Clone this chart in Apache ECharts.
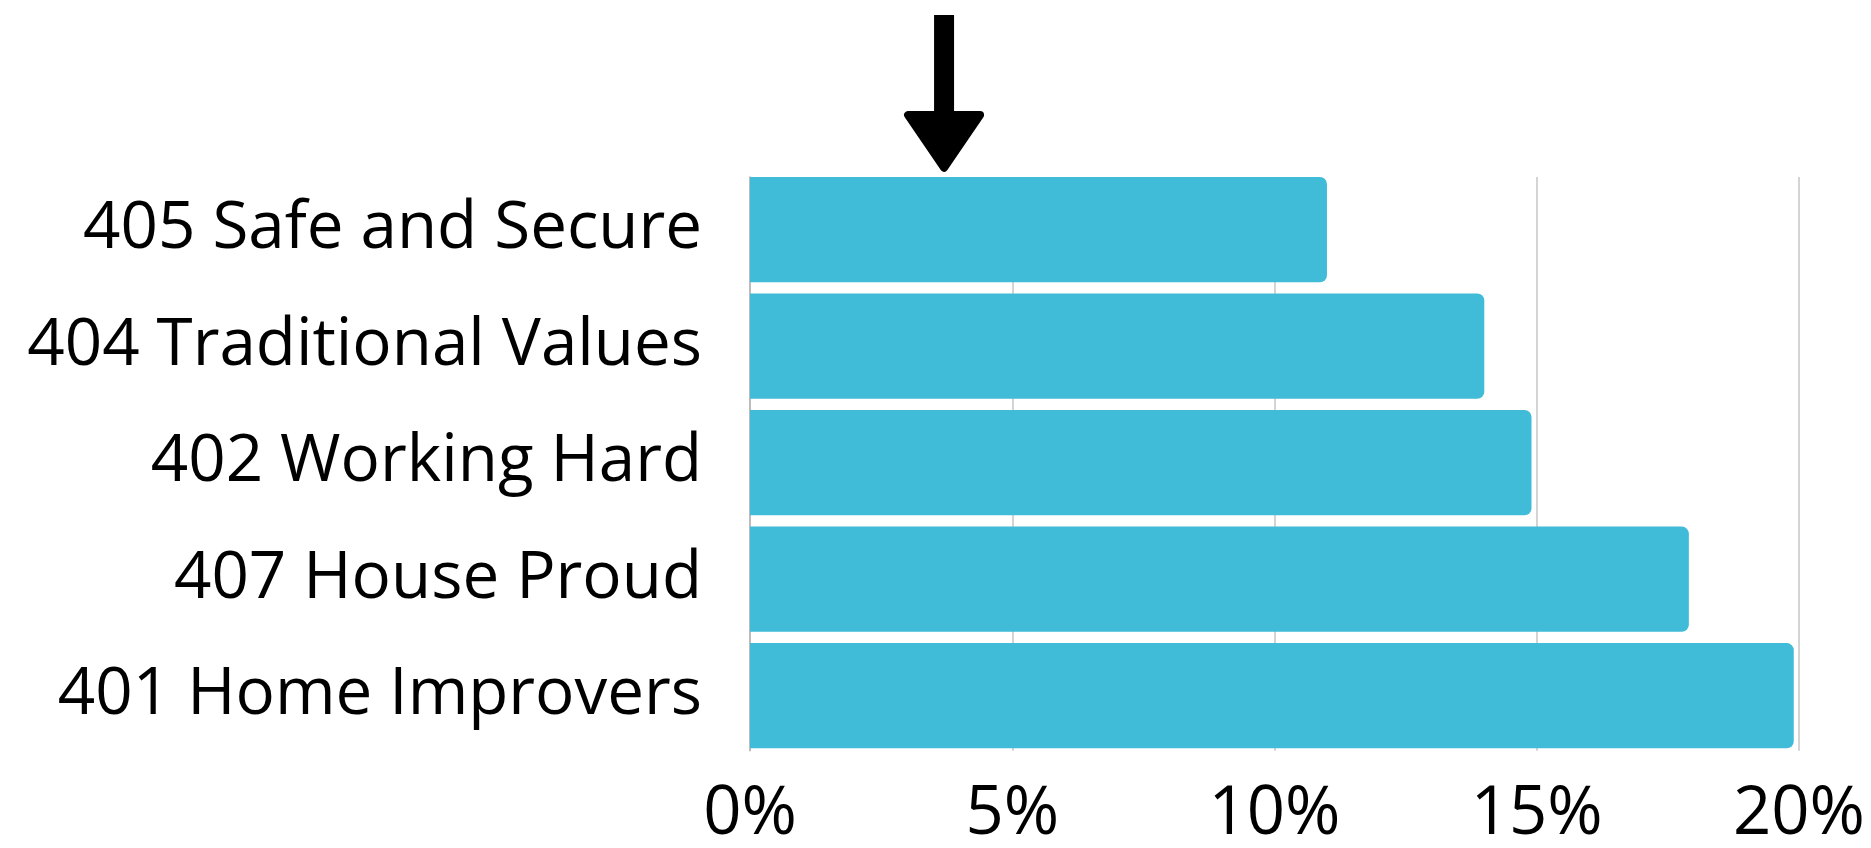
<!DOCTYPE html>
<html>
<head>
<meta charset="utf-8">
<script src="https://cdn.jsdelivr.net/npm/echarts@6/dist/echarts.min.js"></script>
<style>
html,body{margin:0;padding:0;background:#fff;}
#chart{width:1871px;height:848px;}
</style>
</head>
<body>
<div id="chart"></div>
<script>
const categories = ['405 Safe and Secure', '404 Traditional Values', '402 Working Hard', '407 House Proud', '401 Home Improvers'];
const values = [11, 14, 14.9, 17.9, 19.9];
const arrowValue = 3.7;
const xMin = 0, xMax = 20, xStep = 5;

const chart = echarts.init(document.getElementById('chart'), null, {renderer: 'canvas'});
const FONT = '"Open Sans"';
chart.setOption({
  backgroundColor: '#ffffff',
  animation: false,
  grid: [
    {left: 750, right: 72, top: 171.35, bottom: 91.6, containLabel: false},
    {left: 750, right: 72, top: 177, bottom: 97.3, containLabel: false}
  ],
  xAxis: [
    {
      type: 'value', gridIndex: 0, min: xMin, max: xMax, interval: xStep,
      axisLine: {show: false}, axisTick: {show: false}, splitLine: {show: false},
      axisLabel: {formatter: '{value}%', color: '#000', fontFamily: FONT, fontSize: 67, margin: 27}
    },
    {
      type: 'value', gridIndex: 1, min: xMin, max: xMax, interval: xStep,
      axisLine: {show: false}, axisTick: {show: false}, axisLabel: {show: false},
      splitLine: {show: true, lineStyle: {color: '#c6c6c6', width: 1.5}}
    }
  ],
  yAxis: [
    {
      type: 'category', gridIndex: 0, data: categories, inverse: true,
      axisLine: {show: false}, axisTick: {show: false}, splitLine: {show: false},
      axisLabel: {color: '#000', fontFamily: FONT, fontSize: 65.5, margin: 48, padding: [14, 0, 0, 0]}
    },
    {
      type: 'category', gridIndex: 1, data: categories, inverse: true,
      axisLine: {show: true, lineStyle: {color: '#b4b4b4', width: 1.5}},
      axisTick: {show: false}, axisLabel: {show: false}, splitLine: {show: false}
    }
  ],
  series: [{
    type: 'bar', xAxisIndex: 0, yAxisIndex: 0, data: values,
    barCategoryGap: '9.7%',
    itemStyle: {color: '#40BBD8', borderRadius: [0, 7, 7, 0]},
    z: 3
  }]
});

function drawArrow() {
  const px = chart.convertToPixel({gridIndex: 0}, [arrowValue, 0])[0];
  chart.setOption({
    graphic: [{
      type: 'group', x: px, y: 0,
      children: [
        {type: 'rect', shape: {x: -10, y: 15, width: 20, height: 100}, style: {fill: '#000'}},
        {type: 'polygon', shape: {points: [[-36, 115], [36, 115], [0, 167.7]]},
         style: {fill: '#000', stroke: '#000', lineWidth: 8, lineJoin: 'round'}}
      ]
    }]
  });
}
drawArrow();
</script>
</body>
</html>
